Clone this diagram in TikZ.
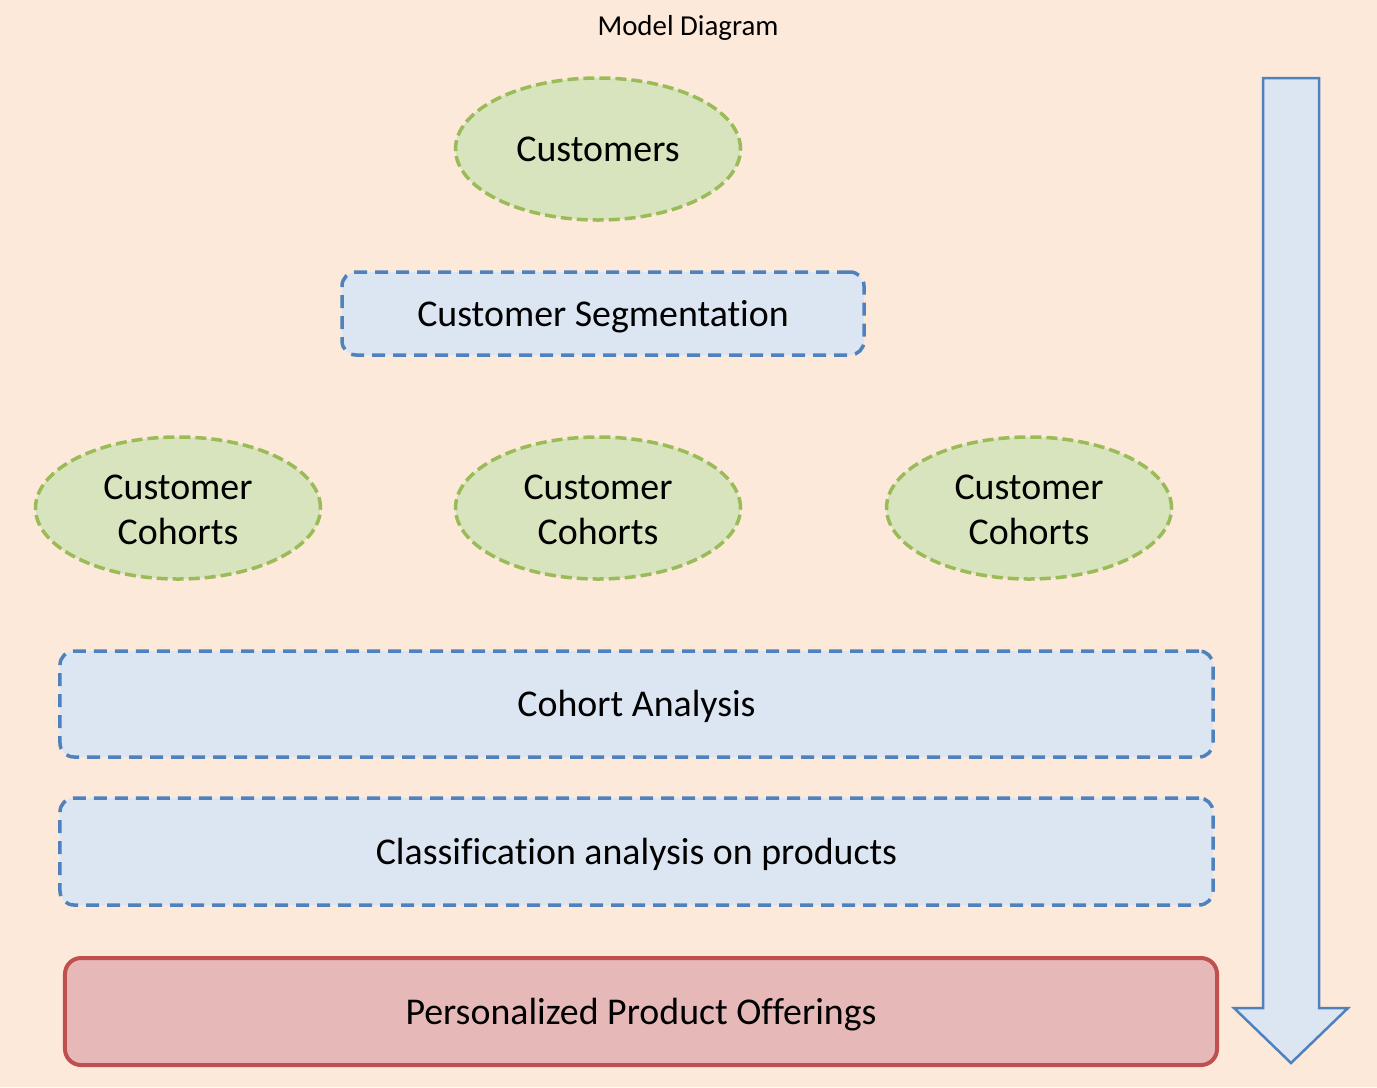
\documentclass[tikz,border=0pt]{standalone}
\usepackage{fontspec}
\setmainfont{Carlito}[Ligatures=NoCommon]
\usetikzlibrary{shapes.geometric}
\definecolor{bgpeach}{HTML}{FDE9D9}
\definecolor{grnfill}{HTML}{D7E4BD}
\definecolor{grnline}{HTML}{9BBB59}
\definecolor{blufill}{HTML}{DCE6F2}
\definecolor{bluline}{HTML}{4F81BD}
\definecolor{redfill}{HTML}{E6B9B8}
\definecolor{redline}{HTML}{C0504D}
\tikzset{
  bigtext/.style={font=\fontsize{38}{45}\selectfont},
  oneline/.style={text height=28bp, text depth=3bp},
  twoline/.style={text height=73bp, text depth=1bp},
  oval/.style={ellipse, draw=grnline, fill=grnfill, line width=3.5bp,
    dash pattern=on 11bp off 5bp, minimum width=285bp, minimum height=142bp,
    inner sep=0pt, align=center, bigtext},
  bluebox/.style={rectangle, rounded corners=14bp, draw=bluline, fill=blufill,
    line width=3.5bp, dash pattern=on 13bp off 8bp, inner sep=0pt,
    bigtext, oneline},
  redbox/.style={rectangle, rounded corners=16bp, draw=redline, fill=redfill,
    line width=4bp, inner sep=0pt, bigtext, oneline},
}
\begin{document}
\begin{tikzpicture}[x=1bp,y=-1bp]
\fill[bgpeach] (0,0) rectangle (1377,1087);
\useasboundingbox (0,0) rectangle (1377,1087);
\node[font=\fontsize{29}{34}\selectfont] (title) at (688,28) {Model Diagram};
\node[oval, oneline] (cust) at (598,149) {Customers};
\node[bluebox, minimum width=522bp, minimum height=83bp] (seg) at (603,313.5) {Customer Segmentation};
\node[oval, twoline] (c1) at (178,508) {Customer\\Cohorts};
\node[oval, twoline] (c2) at (598,508) {Customer\\Cohorts};
\node[oval, twoline] (c3) at (1029,508) {Customer\\Cohorts};
\node[bluebox, minimum width=1153bp, minimum height=106bp] (coh) at (636.5,704) {Cohort Analysis};
\node[bluebox, minimum width=1153bp, minimum height=107bp] (cls) at (636.5,851.5) {Classification analysis on products};
\node[redbox, minimum width=1152bp, minimum height=107bp] (pers) at (641,1011.5) {Personalized Product Offerings};
\coordinate (arrtip) at (1291,1063);
\draw[draw=bluline, fill=blufill, line width=2.5bp, line join=miter]
  (1263,78) -- (1319,78) -- (1319,1008) -- (1348,1008) -- (arrtip)
  -- (1234,1008) -- (1263,1008) -- cycle;
\end{tikzpicture}
\end{document}
